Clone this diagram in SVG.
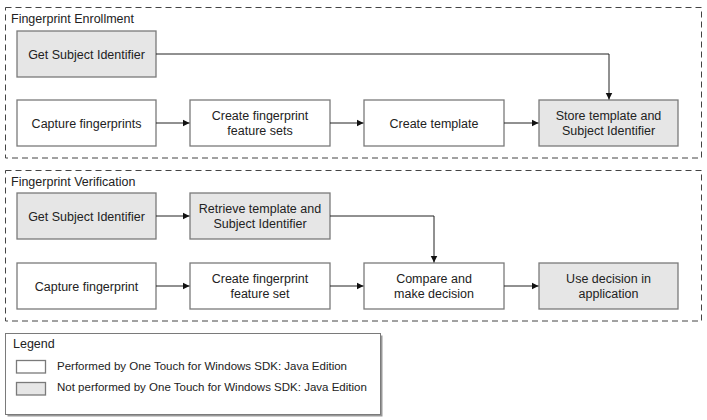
<svg xmlns="http://www.w3.org/2000/svg" width="707" height="420" viewBox="0 0 707 420">
<defs>
<marker id="arr" markerWidth="8" markerHeight="8" refX="7" refY="4" orient="auto" markerUnits="userSpaceOnUse">
<path d="M0,0.5 L7,4 L0,7.5 Z" fill="#111"/>
</marker>
<style>
.grp{fill:#fff;stroke:#444;stroke-width:1;stroke-dasharray:6,4}
.n{fill:#fff;stroke:#7a7a7a;stroke-width:1.3}
.g{fill:#e6e6e6;stroke:#7a7a7a;stroke-width:1.3}
.t{font-family:"Liberation Sans",Arial,sans-serif;font-size:12.5px;fill:#222;text-anchor:middle}
.lbl{font-family:"Liberation Sans",Arial,sans-serif;font-size:12.5px;fill:#222}
.lg{font-family:"Liberation Sans",Arial,sans-serif;font-size:11.5px;fill:#222}
.c{fill:none;stroke:#222;stroke-width:1;marker-end:url(#arr)}
</style>
</defs>
<rect width="707" height="420" fill="#fff"/>
<g id="enrollment-group">
<rect class="grp" x="5.5" y="7.5" width="696" height="150.5"/>
<text class="lbl" x="11" y="23">Fingerprint Enrollment</text>
</g>
<g id="verification-group">
<rect class="grp" x="5.5" y="170.5" width="696" height="150.5"/>
<text class="lbl" x="11" y="186">Fingerprint Verification</text>
</g>
<g id="e-getid"><rect class="g" x="17" y="31" width="139" height="46"/><text class="t" x="86.5" y="58.5">Get Subject Identifier</text></g>
<g id="e-capture"><rect class="n" x="17" y="100" width="139" height="46"/><text class="t" x="86.5" y="127.5">Capture fingerprints</text></g>
<g id="e-features"><rect class="n" x="190" y="100" width="140" height="46"/><text class="t" x="260" y="120">Create fingerprint</text><text class="t" x="260" y="135">feature sets</text></g>
<g id="e-template"><rect class="n" x="364" y="100" width="140" height="46"/><text class="t" x="434" y="127.5">Create template</text></g>
<g id="e-store"><rect class="g" x="539" y="100" width="139" height="46"/><text class="t" x="608.5" y="120">Store template and</text><text class="t" x="608.5" y="135">Subject Identifier</text></g>
<g id="v-getid"><rect class="g" x="17" y="193" width="139" height="46"/><text class="t" x="86.5" y="220.5">Get Subject Identifier</text></g>
<g id="v-retrieve"><rect class="g" x="190" y="193" width="140" height="46"/><text class="t" x="260" y="213">Retrieve template and</text><text class="t" x="260" y="228">Subject Identifier</text></g>
<g id="v-capture"><rect class="n" x="17" y="263" width="139" height="46"/><text class="t" x="86.5" y="290.5">Capture fingerprint</text></g>
<g id="v-features"><rect class="n" x="190" y="263" width="140" height="46"/><text class="t" x="260" y="283">Create fingerprint</text><text class="t" x="260" y="298">feature set</text></g>
<g id="v-compare"><rect class="n" x="364" y="263" width="140" height="46"/><text class="t" x="434" y="283">Compare and</text><text class="t" x="434" y="298">make decision</text></g>
<g id="v-use"><rect class="g" x="539" y="263" width="139" height="46"/><text class="t" x="608.5" y="283">Use decision in</text><text class="t" x="608.5" y="298">application</text></g>
<g id="connectors">
<path class="c" d="M156,54 H609 V99.5"/>
<path class="c" d="M156,123 H189.5"/>
<path class="c" d="M330,123 H363.5"/>
<path class="c" d="M504,123 H538.5"/>
<path class="c" d="M156,216 H189.5"/>
<path class="c" d="M330,216 H434 V262.5"/>
<path class="c" d="M156,286 H189.5"/>
<path class="c" d="M330,286 H363.5"/>
<path class="c" d="M504,286 H538.5"/>
</g>
<g id="legend">
<rect x="7.5" y="335.5" width="375" height="81" fill="#999"/>
<rect x="5.5" y="333.5" width="375" height="81" fill="#fff" stroke="#7a7a7a" stroke-width="1"/>
<text class="lbl" x="13" y="348">Legend</text>
<rect class="n" x="16.5" y="360.5" width="29" height="12.5"/>
<text class="lg" x="57" y="369.5">Performed by One Touch for Windows SDK: Java Edition</text>
<rect class="g" x="16.5" y="382.5" width="29" height="12.5"/>
<text class="lg" x="57" y="391">Not performed by One Touch for Windows SDK: Java Edition</text>
</g>
</svg>
